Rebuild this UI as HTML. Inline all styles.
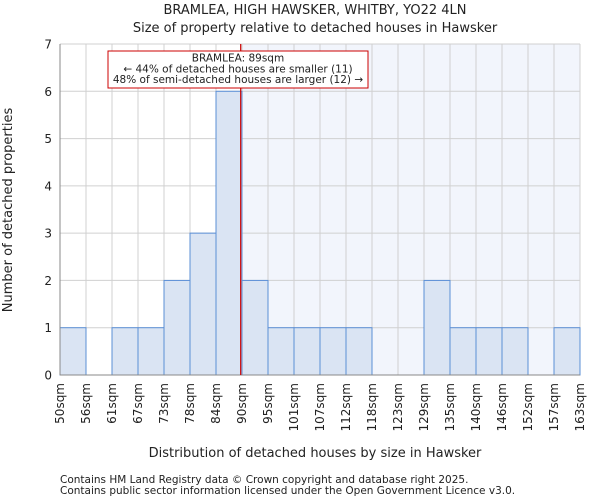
<!DOCTYPE html>
<html><head><meta charset="utf-8"><style>
body{margin:0;background:#fff;font-family:"DejaVu Sans","Liberation Sans",sans-serif}
svg text{font-family:"DejaVu Sans","Liberation Sans",sans-serif;fill:#222}
</style></head><body>
<svg width="600" height="500">
<text x="315" y="14" font-size="13" text-anchor="middle">BRAMLEA, HIGH HAWSKER, WHITBY, YO22 4LN</text>
<text x="315" y="32" font-size="13" text-anchor="middle">Size of property relative to detached houses in Hawsker</text>
<g id="plot"></g>
<text x="315" y="457" font-size="13" text-anchor="middle">Distribution of detached houses by size in Hawsker</text>
<text transform="translate(12,210) rotate(-90)" font-size="13" text-anchor="middle">Number of detached properties</text>
<text x="60" y="483" font-size="10.5">Contains HM Land Registry data © Crown copyright and database right 2025.</text>
<text x="60" y="494" font-size="10.5">Contains public sector information licensed under the Open Government Licence v3.0.</text>
</svg>
<script>
const binLabels=["50sqm","56sqm","61sqm","67sqm","73sqm","78sqm","84sqm","90sqm","95sqm","101sqm","107sqm","112sqm","118sqm","123sqm","129sqm","135sqm","140sqm","146sqm","152sqm","157sqm","163sqm"];
const counts=[1,0,1,1,2,3,6,2,1,1,1,1,0,0,2,1,1,1,0,1];
const yTicks=[0,1,2,3,4,5,6,7];
const propertyBin=6.95;
const X0=60,X1=580,Y0=375,Y1=44,YMAX=7;
const nb=counts.length,bw=(X1-X0)/nb;
const xs=i=>X0+i*bw, ys=v=>Y0-(Y0-Y1)*v/YMAX;
const g=document.getElementById('plot'),NS="http://www.w3.org/2000/svg";
function mk(t,a){const e=document.createElementNS(NS,t);for(const k in a)e.setAttribute(k,a[k]);g.appendChild(e);return e;}
const lineX=xs(propertyBin);
const shadeStart=xs(Math.ceil(propertyBin));
let bg=mk('rect',{x:shadeStart,y:Y1,width:X1-shadeStart,height:Y0-Y1,fill:'#f2f5fc'});


for(let i=0;i<=nb;i++){let l=mk('line',{x1:xs(i),x2:xs(i),y1:Y1,y2:Y0,stroke:'#d0d0d0','stroke-width':1});

}
yTicks.forEach(v=>{let l=mk('line',{x1:X0,x2:X1,y1:ys(v),y2:ys(v),stroke:'#d0d0d0','stroke-width':1});


let t=mk('text',{x:X0-8,y:ys(v)+4.5,'font-size':12,'text-anchor':'end'});t.textContent=v;

});
counts.forEach((c,i)=>{if(!c)return;let r=mk('rect',{x:xs(i),y:ys(c),width:bw,height:Y0-ys(c),fill:'#dae4f3',stroke:'#5b8fd6','stroke-width':1});

});
binLabels.forEach((s,i)=>{let t=mk('text',{transform:`translate(${xs(i)+4},${Y0+8}) rotate(-90)`,'font-size':12,'text-anchor':'end'});t.textContent=s;

});
let ax=mk('line',{x1:X0,x2:X0,y1:Y1,y2:Y0,stroke:'#888'});


let ax2=mk('line',{x1:X0,x2:X1,y1:Y0,y2:Y0,stroke:'#888'});


let pl=mk('line',{x1:lineX,x2:lineX,y1:Y1,y2:Y0,stroke:'#cc0000','stroke-width':1.2});


let box=mk('rect',{x:108,y:51,width:260,height:37,fill:'#fff',stroke:'#cc0000','stroke-width':1});


["BRAMLEA: 89sqm","← 44% of detached houses are smaller (11)","48% of semi-detached houses are larger (12) →"].forEach((s,i)=>{let t=mk('text',{x:238,y:61.5+i*10.8,'font-size':10.5,'text-anchor':'middle'});t.textContent=s;

});
</script>
</body></html>
